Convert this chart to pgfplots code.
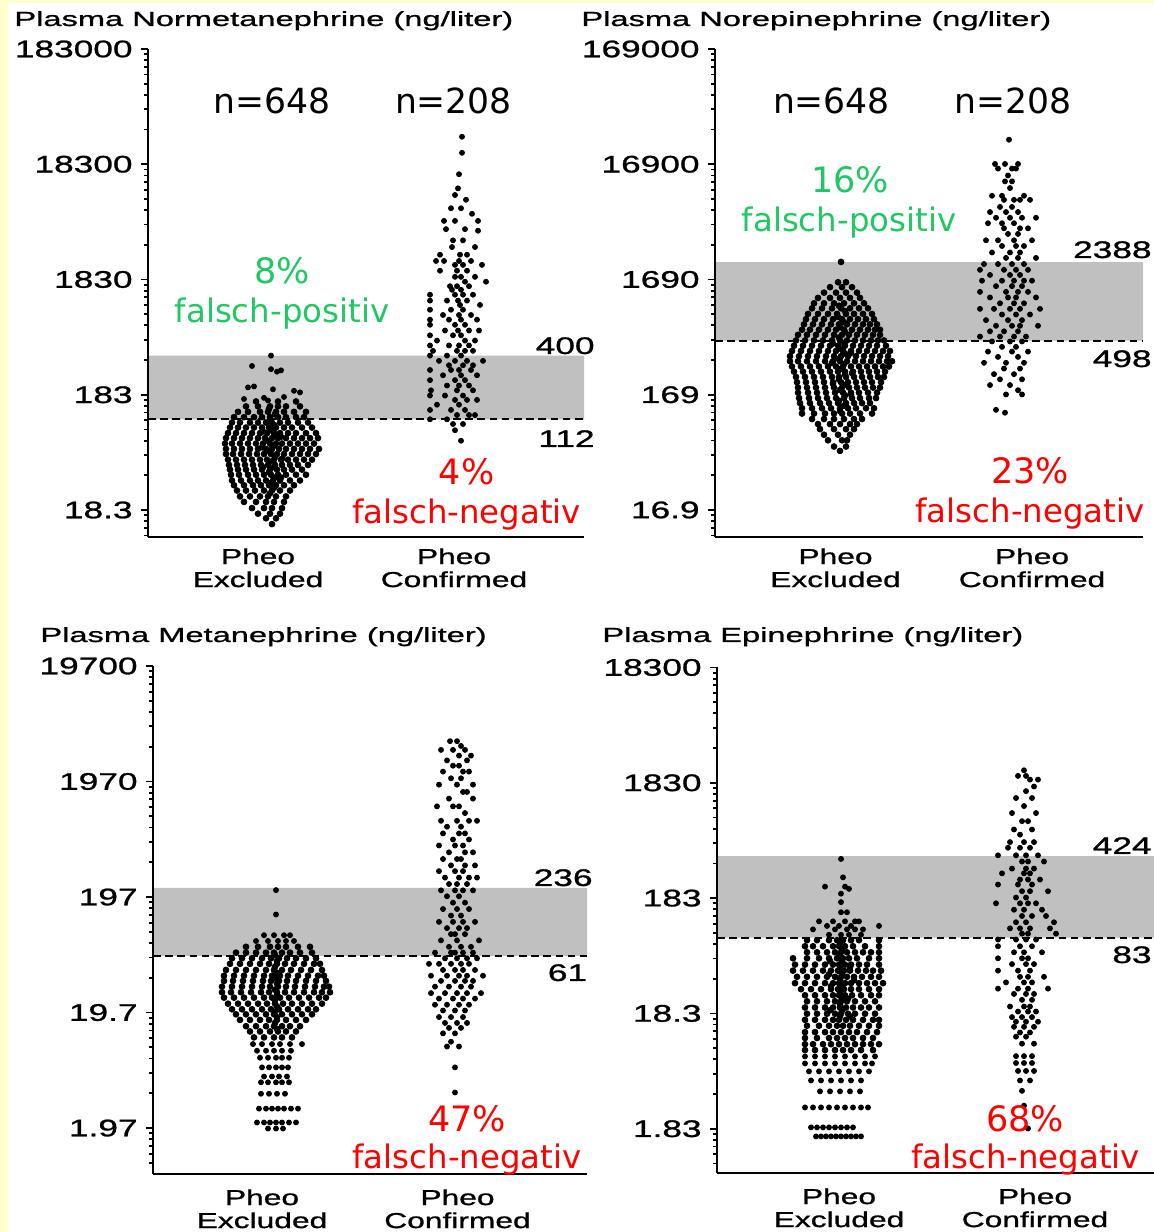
\documentclass[border=0pt]{standalone}
\usepackage{pgfplots}
\pgfplotsset{compat=1.18}
\usepackage{fontspec}
\setmainfont{Liberation Sans}
\newfontfamily\wide[FakeStretch=1.47,FakeBold=1]{Liberation Sans}
\newfontfamily\titlef[FakeStretch=1.6,FakeBold=1]{Liberation Sans}
\newfontfamily\ann{DejaVu Sans}
\definecolor{bg}{HTML}{FFFFCC}
\definecolor{band}{HTML}{C0C0C0}
\definecolor{fpgreen}{HTML}{20C864}
\definecolor{fnred}{HTML}{FF0000}

\pgfplotsset{
  mypanel/.style={
    scale only axis, anchor=south west, clip=false, axis on top,
    axis lines*=left,
    axis line style={line width=1.3pt},
    tick align=outside,
    xtick style={draw=none},
    ytick style={black, line width=0.9pt},
    major tick length=3.5pt, minor tick length=1.8pt,
    yticklabel style={font=\wide\fontsize{12}{12}\selectfont, inner sep=0pt, xshift=-4pt},
    xticklabel style={font=\wide\fontsize{10.8}{11.5}\selectfont, align=center, inner sep=0pt},
    xticklabels={{Pheo\\Excluded},{Pheo\\Confirmed}},
  },
  bandfill/.style={fill=band, draw=none},
  cutoff/.style={black, line width=1pt, dash pattern=on 3.8pt off 2.3pt},
  bdots/.style={only marks, mark=*, mark size=1.45pt, black},
  cdots/.style={only marks, mark=*, mark size=1.25pt, black},
}

\begin{document}
\begin{tikzpicture}
\path[use as bounding box] (0,0) rectangle (577pt,616pt);
\clip (0,0) rectangle (577pt,616pt);
\fill[bg] (0,0) rectangle (577pt,616pt);
\fill[white] (4pt,0) rectangle (577pt,614.5pt);

% ---------- Plasma Normetanephrine ----------
\begin{axis}[ymode=log, mypanel, at={(74pt,347.5pt)}, width=218pt, height=244pt,
  xticklabel style={yshift=-2pt},
  xmin=-124, xmax=312, ymin=10.67, ymax=183000,
  xtick={-14,182},
  ytick={18.3,183,1830,18300,183000}, yticklabels={18.3,183,1830,18300,183000},
  minor ytick={10.98,12.81,14.64,16.47,36.6,54.9,73.2,91.5,109.8,128.1,146.4,164.7,366,549,732,915,1098,1281,1464,1647,3660,5490,7320,9150,10980,12810,14640,16470,36600,54900,73200,91500,109800,128100,146400,164700}]
\addplot[bandfill] coordinates {(-124,112) (312,112) (312,400) (-124,400) (-124,112)};
\addplot[cutoff] coordinates {(-124,112) (312,112)};
% Pheo excluded
\addplot[cdots] coordinates {
(-1,400)(-20,325)(-1,305)(5,290)(9,298)(-24,212)(-18,216)(1,204)(22,198)(28,192)(-28,168)(-8,172)(-4,163)(12,175)
};
\addplot[bdots] coordinates {
(-16,160)(6,160)(24,160)
(-26,145)(-14,145)(-2,145)(6,145)(14,145)(28,145)
(-34,130)(-24,130)(-12,130)(-4,130)(4,130)(12,130)(22,130)(34,130)
(-38,117)(-28,117)(-18,117)(-10,117)(-2,117)(6,117)(14,117)(24,117)(32,117)
(-40,105)(-32,105)(-22,105)(-14,105)(-6,105)(0,105)(8,105)(16,105)(26,105)(36,105)
(-42,95)(-34,95)(-26,95)(-18,95)(-10,95)(-3,95)(4,95)(12,95)(20,95)(30,95)(40,95)
(-44,85)(-36,85)(-28,85)(-20,85)(-12,85)(-5,85)(2,85)(8,85)(16,85)(24,85)(34,85)(44,85)
(-46,77)(-38,77)(-30,77)(-22,77)(-14,77)(-7,77)(0,77)(6,77)(14,77)(22,77)(30,77)(38,77)(46,77)
(-47,69)(-40,69)(-32,69)(-24,69)(-16,69)(-9,69)(-2,69)(4,69)(10,69)(18,69)(26,69)(34,69)(42,69)
(-46,62)(-38,62)(-30,62)(-22,62)(-14,62)(-6,62)(0,62)(7,62)(14,62)(22,62)(30,62)(38,62)(47,62)
(-46,56)(-39,56)(-31,56)(-23,56)(-15,56)(-8,56)(-1,56)(5,56)(12,56)(20,56)(28,56)(36,56)(44,56)
(-44,50)(-36,50)(-28,50)(-20,50)(-12,50)(-5,50)(2,50)(9,50)(16,50)(24,50)(32,50)(40,50)
(-43,45)(-35,45)(-27,45)(-19,45)(-11,45)(-4,45)(3,45)(10,45)(18,45)(26,45)(36,45)
(-42,41)(-34,41)(-26,41)(-18,41)(-10,41)(-2,41)(5,41)(12,41)(20,41)(30,41)
(-41,37)(-33,37)(-24,37)(-16,37)(-8,37)(-1,37)(6,37)(14,37)(24,37)(34,37)
(-40,33)(-31,33)(-22,33)(-14,33)(-6,33)(1,33)(8,33)(18,33)(28,33)
(-38,30)(-28,30)(-19,30)(-11,30)(-3,30)(4,30)(12,30)(22,30)
(-35,27)(-26,27)(-17,27)(-8,27)(0,27)(8,27)(18,27)
(-32,24)(-22,24)(-12,24)(-4,24)(4,24)(14,24)
(-28,21.5)(-16,21.5)(-6,21.5)(2,21.5)(12,21.5)
(-20,19)(-8,19)(0,19)(10,19)
(-14,17)(-2,17)(8,17)
(-6,15.5)(4,15.5)
(0,13.8)
(-3,138)(3,124)(-2,111)(2,100)(-1,90)(3,81)(-4,73)(2,66)(-3,59)(3,53)(-2,48)(2,43)(-3,39)(3,35)(-1,31.5)(2,28.5)(-2,25.5)
(-9,88)(9,79)(-10,64)(10,51)(-9,43)(9,35)
};
% Pheo confirmed
\addplot[cdots] coordinates {
(190,31700)(190,23000)(187,15000)(186,11300)(183,9900)(194,9000)(179,7600)(189,7600)(200,6800)
(172,5900)(183,5900)(206,5900)(174,5000)(193,5000)(206,4850)(181,4000)(191,4000)(180,3500)(203,3500)
(168,3000)(188,3000)(195,3000)(164,2650)(172,2650)(187,2650)(199,2650)(183,2450)(191,2450)(210,2450)
(168,2180)(185,2180)(195,2180)(183,1930)(189,1930)(203,1930)(193,1750)(214,1750)(178,1600)(185,1600)(197,1600)
(180,1490)(189,1490)(158,1350)(183,1350)(191,1350)(201,1350)(158,1200)(175,1200)(186,1200)(195,1200)
(188,1100)(208,1100)(158,1000)(179,1000)(191,1000)(171,900)(187,900)(199,900)
(158,820)(177,820)(189,820)(205,820)(158,740)(183,740)(193,740)(173,660)(186,660)(197,660)(207,660)
(158,600)(181,600)(189,600)(165,540)(193,540)(203,540)(158,490)(177,490)(187,490)(197,490)
(161,440)(185,440)(193,440)(201,440)(158,400)(175,400)(189,400)(167,360)(183,360)(195,360)(211,360)
(177,330)(191,330)(201,330)(158,300)(179,300)(187,300)(199,300)(171,270)(189,270)(205,270)
(158,245)(183,245)(193,245)(175,220)(187,220)(197,220)(159,200)(185,200)(201,200)
(158,180)(173,180)(191,180)(183,165)(195,165)(205,165)(165,150)(187,150)(158,135)(179,135)(193,135)
(185,122)(197,122)(203,122)(158,112)(175,112)(181,102)(191,102)(183,90)(189,73)
};
\end{axis}

% ---------- Plasma Norepinephrine ----------
\begin{axis}[ymode=log, mypanel, at={(357.5pt,347.5pt)}, width=214pt, height=244pt,
  xticklabel style={yshift=-2pt},
  xmin=-127, xmax=301, ymin=9.85, ymax=169000,
  xtick={-6.5,190},
  ytick={16.9,169,1690,16900,169000}, yticklabels={16.9,169,1690,16900,169000},
  minor ytick={10.14,11.83,13.52,15.21,33.8,50.7,67.6,84.5,101.4,118.3,135.2,152.1,338,507,676,845,1014,1183,1352,1521,3380,5070,6760,8450,10140,11830,13520,15210,33800,50700,67600,84500,101400,118300,135200,152100}]
\addplot[bandfill] coordinates {(-127,498) (301,498) (301,2388) (-127,2388) (-127,498)};
\addplot[cutoff] coordinates {(-127,498) (301,498)};
\addplot[bdots] coordinates {
(-1,2400)
(-4,1600)(4,1600)
(-12,1450)(0,1450)(10,1450)
(-18,1300)(-6,1300)(4,1300)(15,1300)
(-24,1170)(-12,1170)(-2,1170)(8,1170)(18,1170)
(-28,1050)(-18,1050)(-8,1050)(2,1050)(12,1050)(22,1050)
(-30,950)(-20,950)(-10,950)(-1,950)(8,950)(17,950)(26,950)
(-34,850)(-24,850)(-14,850)(-5,850)(4,850)(12,850)(21,850)(30,850)
(-36,765)(-27,765)(-18,765)(-9,765)(0,765)(8,765)(16,765)(24,765)(32,765)
(-38,690)(-29,690)(-20,690)(-11,690)(-3,690)(5,690)(13,690)(21,690)(28,690)(35,690)
(-40,620)(-32,620)(-23,620)(-14,620)(-6,620)(2,620)(10,620)(18,620)(26,620)(33,620)(38,620)
(-44,560)(-35,560)(-26,560)(-17,560)(-8,560)(0,560)(7,560)(15,560)(23,560)(31,560)(38,560)
(-46,500)(-37,500)(-28,500)(-19,500)(-10,500)(-2,500)(5,500)(13,500)(21,500)(29,500)(36,500)(42,500)
(-48,450)(-39,450)(-30,450)(-21,450)(-12,450)(-4,450)(3,450)(11,450)(19,450)(27,450)(35,450)(44,450)
(-50,405)(-41,405)(-32,405)(-23,405)(-14,405)(-6,405)(1,405)(9,405)(17,405)(25,405)(33,405)(41,405)(48,405)
(-52,365)(-43,365)(-34,365)(-25,365)(-16,365)(-8,365)(-1,365)(6,365)(14,365)(22,365)(30,365)(38,365)(46,365)
(-52,330)(-44,330)(-35,330)(-26,330)(-17,330)(-9,330)(-2,330)(5,330)(13,330)(21,330)(29,330)(37,330)(45,330)(50,330)
(-50,297)(-41,297)(-32,297)(-23,297)(-14,297)(-6,297)(1,297)(9,297)(17,297)(25,297)(33,297)(41,297)(47,297)
(-48,268)(-39,268)(-30,268)(-21,268)(-12,268)(-4,268)(3,268)(11,268)(19,268)(27,268)(35,268)(43,268)
(-46,241)(-37,241)(-28,241)(-19,241)(-10,241)(-3,241)(4,241)(12,241)(20,241)(28,241)(36,241)(42,241)
(-45,217)(-36,217)(-27,217)(-18,217)(-9,217)(-1,217)(6,217)(14,217)(22,217)(30,217)(39,217)
(-44,195)(-35,195)(-26,195)(-17,195)(-8,195)(0,195)(7,195)(15,195)(23,195)(31,195)(38,195)
(-44,176)(-34,176)(-25,176)(-16,176)(-7,176)(1,176)(9,176)(17,176)(26,176)(35,176)
(-43,158)(-33,158)(-24,158)(-15,158)(-6,158)(2,158)(10,158)(18,158)(27,158)(34,158)
(-42,143)(-32,143)(-22,143)(-13,143)(-4,143)(4,143)(12,143)(20,143)(28,143)
(-40,129)(-30,129)(-20,129)(-11,129)(-2,129)(6,129)(14,129)(24,129)(32,129)
(-40,116)(-28,116)(-17,116)(-8,116)(0,116)(8,116)(18,116)(30,116)
(-30,104)(-18,104)(-8,104)(2,104)(12,104)(20,104)
(-24,94)(-12,94)(-2,94)(8,94)(15,94)
(-22,85)(-8,85)(4,85)(12,85)
(-18,76)(-4,76)(8,76)
(-14,68)(0,68)(5,68)
(-8,60)(4,60)
(-2,55)
(-3,1000)(3,900)(-4,800)(2,720)(-2,650)(3,590)(-3,530)(2,475)(-2,425)(3,385)(-3,345)(2,312)(-2,282)(3,254)(-3,229)(2,206)(-2,186)(3,167)(-3,150)(2,136)(-2,122)
(-9,470)(9,390)(-10,320)(10,260)(-9,210)(9,170)
};
\addplot[cdots] coordinates {
(167,27600)(153,17000)(163,17000)(176,17000)(156,15500)(170,15500)(174,15500)(166,13500)(163,12000)(170,12000)(168,10500)
(150,9000)(160,9000)(182,9000)(162,8300)(172,8300)(178,8300)(188,8300)(158,7200)(170,7200)
(148,6500)(164,6500)(176,6500)(154,5800)(168,5800)(180,5800)(194,5800)(146,5200)(160,5200)(172,5200)
(162,4700)(178,4700)(186,4700)(166,4200)(176,4200)(144,3700)(156,3700)(172,3700)(190,3700)
(160,3300)(174,3300)(182,3300)(150,2900)(168,2900)(178,2900)(164,2600)(176,2600)(194,2600)
(142,2300)(156,2300)(170,2300)(182,2300)(138,2050)(162,2050)(174,2050)(186,2050)(148,1850)(168,1850)(178,1850)
(140,1650)(160,1650)(172,1650)(182,1650)(190,1650)(154,1480)(170,1480)(180,1480)
(138,1320)(164,1320)(176,1320)(186,1320)(148,1180)(166,1180)(174,1180)(194,1180)(158,1050)(172,1050)(182,1050)
(138,940)(152,940)(168,940)(178,940)(198,940)(160,840)(174,840)(188,840)(144,750)(166,750)(180,750)
(154,670)(170,670)(178,670)(196,670)(148,600)(162,600)(176,600)(138,540)(158,540)(172,540)(184,540)
(150,490)(168,490)(180,490)(160,440)(174,440)(146,400)(170,400)(186,400)(156,360)(176,360)
(142,320)(164,320)(182,320)(162,285)(178,285)(152,255)(172,255)(158,230)(180,230)(148,205)(168,205)
(176,185)(164,170)(180,170)(154,125)(163,118)
};
\end{axis}

% ---------- Plasma Metanephrine ----------
\begin{axis}[ymode=log, mypanel, at={(76.5pt,29pt)}, width=217pt, height=254pt,
  xticklabel style={yshift=-4pt},
  xmin=-123, xmax=311, ymin=0.788, ymax=19700,
  xtick={-14,181.5},
  ytick={1.97,19.7,197,1970,19700}, yticklabels={1.97,19.7,197,1970,19700},
  minor ytick={0.985,1.182,1.379,1.576,1.773,3.94,5.91,7.88,9.85,11.82,13.79,15.76,17.73,39.4,59.1,78.8,98.5,118.2,137.9,157.6,177.3,394,591,788,985,1182,1379,1576,1773,3940,5910,7880,9850,11820,13790,15760,17730}]
\addplot[bandfill] coordinates {(-123,61) (311,61) (311,236) (-123,236) (-123,61)};
\addplot[cutoff] coordinates {(-123,61) (311,61)};
\addplot[cdots] coordinates {
(0,226)(0,139)
(-12,92)(-2,92)(8,92)(14,92)
(-20,82)(-8,82)(2,82)(10,82)(18,82)
};
\addplot[bdots] coordinates {
(-30,73)(-18,73)(-6,73)(2,73)(10,73)(22,73)(34,73)
(-40,65)(-30,65)(-20,65)(-10,65)(-2,65)(6,65)(14,65)(24,65)(36,65)
(-44,58)(-34,58)(-24,58)(-14,58)(-5,58)(3,58)(11,58)(20,58)(30,58)(40,58)
(-46,52)(-36,52)(-26,52)(-16,52)(-7,52)(1,52)(9,52)(18,52)(28,52)(38,52)(44,52)
(-50,46)(-40,46)(-30,46)(-20,46)(-10,46)(-2,46)(6,46)(15,46)(25,46)(35,46)(46,46)
(-52,41)(-42,41)(-32,41)(-22,41)(-12,41)(-4,41)(4,41)(12,41)(22,41)(32,41)(42,41)(48,41)
(-52,37)(-43,37)(-33,37)(-23,37)(-13,37)(-5,37)(3,37)(11,37)(20,37)(30,37)(40,37)(50,37)
(-54,33)(-44,33)(-34,33)(-24,33)(-14,33)(-6,33)(2,33)(10,33)(19,33)(29,33)(39,33)(48,33)(53,33)
(-54,29.5)(-45,29.5)(-35,29.5)(-25,29.5)(-15,29.5)(-7,29.5)(1,29.5)(9,29.5)(18,29.5)(28,29.5)(38,29.5)(46,29.5)(54,29.5)
(-52,26.5)(-42,26.5)(-32,26.5)(-22,26.5)(-12,26.5)(-4,26.5)(4,26.5)(13,26.5)(23,26.5)(33,26.5)(43,26.5)(50,26.5)
(-48,23.5)(-38,23.5)(-28,23.5)(-18,23.5)(-9,23.5)(-1,23.5)(7,23.5)(16,23.5)(26,23.5)(36,23.5)(46,23.5)
(-44,21)(-34,21)(-24,21)(-14,21)(-5,21)(3,21)(12,21)(22,21)(32,21)(40,21)
(-40,19)(-30,19)(-20,19)(-10,19)(-2,19)(6,19)(16,19)(26,19)(36,19)
(-36,17)(-26,17)(-16,17)(-7,17)(1,17)(10,17)(20,17)(30,17)
(-30,15)(-20,15)(-10,15)(-2,15)(6,15)(14,15)(24,15)
(-26,13.5)(-16,13.5)(-6,13.5)(2,13.5)(10,13.5)(20,13.5)
(-22,12)(-12,12)(-2,12)(6,12)(16,12)
(-1,62)(1,55)(-1,49)(1,43.5)(-1,39)(1,35)(-1,31)(1,28)(-1,25)(1,22.2)(-1,20)(1,18)(-1,16)(1,14.2)
};
\addplot[cdots] coordinates {
(-23,10.5)(-14,10.5)(-4,10.5)(4,10.5)(14,10.5)(26,10.5)
(-19,9.2)(-10,9.2)(-2,9.2)(6,9.2)(15,9.2)
(-16,8)(-8,8)(0,8)(6,8)(13,8)
(-14,6.6)(-7,6.6)(0,6.6)(6,6.6)(12,6.6)
(-12,5.5)(-4,5.5)(3,5.5)(11,5.5)
(-15,4.9)(-8,4.9)(0,4.9)(6,4.9)(13,4.9)
(-15,3.9)(-7,3.9)(1,3.9)(9,3.9)
(-17,2.9)(-10,2.9)(-4,2.9)(2,2.9)(8,2.9)(15,2.9)(22,2.9)
(-19,2.2)(-12,2.2)(-6,2.2)(0,2.2)(6,2.2)(13,2.2)(20,2.2)
(-8,1.95)(0,1.95)(7,1.95)
};
\addplot[cdots] coordinates {
(174,4400)(181,4400)(185,4000)(165,3700)(177,3700)(189,3700)(183,3300)(195,3300)(171,3000)(191,3000)
(177,2700)(183,2700)(167,2400)(187,2400)(193,2400)(175,2100)(185,2100)(163,1850)(181,1850)(197,1850)
(187,1600)(191,1600)(173,1400)(197,1400)(161,1200)(177,1200)(183,1200)(189,1050)
(165,900)(181,900)(193,900)(201,900)(171,800)(185,800)(167,700)(183,700)(189,700)(177,620)(193,620)
(163,550)(179,550)(187,550)(173,480)(189,480)(197,480)(167,420)(181,420)(185,420)(175,370)(189,370)(199,370)
(163,330)(179,330)(187,330)(169,290)(183,290)(193,290)(201,290)(173,255)(181,255)(191,255)
(165,225)(179,225)(187,225)(197,225)(171,200)(183,200)(177,176)(189,176)(167,155)(181,155)(193,155)
(175,136)(185,136)(163,120)(177,120)(187,120)(199,120)(171,106)(183,106)(191,106)(175,94)(179,94)(189,94)
(165,83)(181,83)(203,83)(173,73)(185,73)(195,73)(159,65)(175,65)(179,65)(187,65)(197,65)
(169,58)(181,58)(191,58)(201,58)(153,52)(163,52)(175,52)(185,52)(193,52)(167,46)(179,46)(187,46)(199,46)
(155,41)(171,41)(183,41)(191,41)(207,41)(165,37)(179,37)(189,37)(197,37)(159,33)(173,33)(185,33)(195,33)
(155,29)(169,29)(181,29)(191,29)(205,29)(163,26)(177,26)(187,26)(199,26)(159,23)(171,23)(183,23)(193,23)
(167,20.5)(179,20.5)(189,20.5)(163,18)(175,18)(187,18)(169,16)(181,16)(191,16)(173,14.5)(185,14.5)
(167,13)(179,13)(175,11)(171,10)(183,10)(179,6.6)(179,4.0)
};
\end{axis}

% ---------- Plasma Epinephrine ----------
\begin{axis}[ymode=log, mypanel, at={(358.5pt,29.5pt)}, width=218.5pt, height=252.75pt,
  xticklabel style={yshift=-4pt},
  xmin=-124, xmax=313, ymin=0.756, ymax=18300,
  xtick={-2,194},
  ytick={1.83,18.3,183,1830,18300}, yticklabels={1.83,18.3,183,1830,18300},
  minor ytick={0.915,1.098,1.281,1.464,1.647,3.66,5.49,7.32,9.15,10.98,12.81,14.64,16.47,36.6,54.9,73.2,91.5,109.8,128.1,146.4,164.7,366,549,732,915,1098,1281,1464,1647,3660,5490,7320,9150,10980,12810,14640,16470}]
\addplot[bandfill] coordinates {(-124,83) (313,83) (313,424) (-124,424) (-124,83)};
\addplot[cutoff] coordinates {(-124,83) (313,83)};
\addplot[cdots] coordinates {
(0,400)(2,277)(-16,230)(4,230)(8,220)(0,200)(0,169)(0,138)(6,138)
(-22,115)(-8,115)(4,115)(14,115)(18,115)
(-14,105)(-2,105)(10,105)(38,105)
(-28,98)(-6,98)(6,98)(14,98)(22,98)
(-12,88)(0,88)(8,88)(20,88)
};
\addplot[bdots] coordinates {
(-34,79)(-24,79)(-12,79)(-4,79)(2,79)(10,79)(18,79)(38,79)
(-36,70)(-28,70)(-18,70)(-8,70)(-2,70)(4,70)(12,70)(24,70)(38,70)
(-34,62)(-24,62)(-14,62)(-6,62)(0,62)(6,62)(14,62)(22,62)(30,62)(38,62)
(-48,55)(-34,55)(-22,55)(-12,55)(-4,55)(2,55)(8,55)(16,55)(28,55)(38,55)
(-46,48.5)(-36,48.5)(-26,48.5)(-16,48.5)(-8,48.5)(-2,48.5)(4,48.5)(10,48.5)(18,48.5)(26,48.5)(38,48.5)
(-48,43)(-38,43)(-28,43)(-18,43)(-10,43)(-3,43)(3,43)(9,43)(17,43)(25,43)(32,43)(40,43)
(-44,38)(-34,38)(-24,38)(-14,38)(-6,38)(0,38)(6,38)(13,38)(21,38)(30,38)(38,38)
(-46,33.5)(-36,33.5)(-26,33.5)(-16,33.5)(-8,33.5)(-2,33.5)(4,33.5)(10,33.5)(18,33.5)(26,33.5)(34,33.5)(42,33.5)
(-40,29.7)(-30,29.7)(-20,29.7)(-10,29.7)(-3,29.7)(3,29.7)(10,29.7)(18,29.7)(28,29.7)(38,29.7)
(-36,26.3)(-26,26.3)(-16,26.3)(-8,26.3)(-2,26.3)(4,26.3)(11,26.3)(20,26.3)(30,26.3)(38,26.3)
(-34,23.3)(-24,23.3)(-14,23.3)(-6,23.3)(0,23.3)(6,23.3)(14,23.3)(24,23.3)(34,23.3)
(-36,20.6)(-26,20.6)(-16,20.6)(-8,20.6)(-1,20.6)(5,20.6)(12,20.6)(20,20.6)(28,20.6)(38,20.6)
(-34,18.2)(-24,18.2)(-14,18.2)(-6,18.2)(0,18.2)(7,18.2)(14,18.2)(24,18.2)(34,18.2)
(-36,16.1)(-26,16.1)(-16,16.1)(-8,16.1)(-2,16.1)(5,16.1)(12,16.1)(22,16.1)(32,16.1)(38,16.1)
(-34,14.3)(-22,14.3)(-12,14.3)(-4,14.3)(2,14.3)(9,14.3)(18,14.3)(28,14.3)(38,14.3)
(-36,12.6)(-26,12.6)(-16,12.6)(-8,12.6)(0,12.6)(8,12.6)(16,12.6)(26,12.6)(36,12.6)
(-36,11.2)(-24,11.2)(-12,11.2)(-4,11.2)(4,11.2)(12,11.2)(22,11.2)(32,11.2)
(-36,9.9)(-28,9.9)(-18,9.9)(-10,9.9)(-2,9.9)(6,9.9)(14,9.9)(22,9.9)(30,9.9)(38,9.9)
(-36,8.8)(-26,8.8)(-16,8.8)(-6,8.8)(2,8.8)(10,8.8)(20,8.8)(32,8.8)
(-1,75)(1,66)(-1,58)(1,51)(-1,45.5)(1,40.5)(-1,36)(1,31.5)(-1,28)(1,24.8)(-1,22)(1,19.4)(-1,17.2)
(-11,52)(9,46)(-12,40)(13,35.5)(-10,31.5)(7,24.5)(-11,19.5)(9,17.2)
};
\addplot[cdots] coordinates {
(-36,7.76)(-26,7.76)(-16,7.76)(-6,7.76)(4,7.76)(14,7.76)(24,7.76)(34,7.76)
(-36,6.74)(-26,6.74)(-16,6.74)(-6,6.74)(4,6.74)(14,6.74)(24,6.74)(31,6.74)
(-32,5.75)(-22,5.75)(-12,5.75)(-2,5.75)(8,5.75)(18,5.75)(28,5.75)
(-30,4.8)(-20,4.8)(-10,4.8)(0,4.8)(10,4.8)(20,4.8)
(-21,3.86)(-11,3.86)(-1,3.86)(9,3.86)(19,3.86)
(-36,2.8)(-28,2.8)(-20,2.8)(-12,2.8)(-4,2.8)(4,2.8)(12,2.8)(20,2.8)(27,2.8)
(-30,1.88)(-24,1.88)(-18,1.88)(-12,1.88)(-6,1.88)(0,1.88)(6,1.88)(12,1.88)
(-25,1.57)(-20,1.57)(-15,1.57)(-10,1.57)(-5,1.57)(0,1.57)(5,1.57)(10,1.57)(15,1.57)(20,1.57)
};
\addplot[cdots] coordinates {
(183,2350)(177,2100)(185,2100)(189,1950)(197,1950)(193,1700)(185,1550)(175,1350)(191,1350)(183,1150)
(171,1000)(195,1000)(181,850)(187,850)(173,720)(191,720)(179,650)(169,560)(183,560)(193,560)
(167,500)(179,500)(189,500)(157,430)(175,430)(185,430)(197,430)(181,380)(187,380)(203,380)
(171,330)(185,330)(193,330)(161,300)(183,300)(189,300)(179,265)(187,265)(199,265)(157,240)(177,240)(191,240)
(181,210)(189,210)(207,210)(175,185)(185,185)(155,165)(179,165)(187,165)(195,165)(173,145)(183,145)(201,145)
(181,128)(191,128)(205,128)(175,113)(185,113)(213,113)(169,100)(179,100)(189,100)(209,100)(181,90)(187,90)(215,90)
(157,80)(175,80)(185,80)(195,80)(157,70)(179,70)(191,70)(173,62)(183,62)(201,62)(157,55)(181,55)(187,55)
(171,49)(185,49)(193,49)(157,43)(177,43)(189,43)(179,38)(187,38)(203,38)(165,34)(183,34)(191,34)
(157,30)(177,30)(187,30)(207,30)(173,27)(185,27)(193,27)(181,24)(191,24)(169,21)(183,21)(189,21)
(177,19)(187,19)(195,19)(171,17)(181,17)(191,17)(175,15.5)(185,15.5)(197,15.5)(173,14)(183,14)(193,14)
(179,12.5)(189,12.5)(175,11.5)(185,11.5)(181,10)(193,10)(175,7.8)(183,7.8)(191,7.8)(175,6.8)(183,6.8)(191,6.8)
(177,5.8)(185,5.8)(193,5.8)(179,4.8)(189,4.8)(181,3.9)(183,2.9)(187,1.84)
};
\end{axis}

% ---------- texts ----------
\begin{scope}[x=0.5pt,y=0.5pt,
  T/.style={font=\titlef\fontsize{10.2}{12}\selectfont, anchor=base west, inner sep=0pt},
  N/.style={font=\ann\fontsize{17.3}{18}\selectfont, anchor=base, inner sep=0pt},
  G/.style={font=\ann\fontsize{16.2}{17}\selectfont, anchor=base, inner sep=0pt, text=fpgreen},
  R/.style={font=\ann\fontsize{16.2}{17}\selectfont, anchor=base, inner sep=0pt, text=fnred},
  P/.style={font=\ann\fontsize{17.5}{18}\selectfont},
  C/.style={font=\wide\fontsize{12}{12}\selectfont, anchor=base east, inner sep=0pt}]
\node[T] at (14,1206) {Plasma Normetanephrine (ng/liter)};
\node[T] at (581,1206) {Plasma Norepinephrine (ng/liter)};
\node[T] at (40,590) {Plasma Metanephrine (ng/liter)};
\node[T] at (602,590) {Plasma Epinephrine (ng/liter)};
\node[N] at (272,1118) {n=648};
\node[N] at (453.5,1118) {n=208};
\node[N] at (831.5,1118) {n=648};
\node[N] at (1013,1118) {n=208};
\node[G,P] at (282,948) {8\%};
\node[G] at (282,909) {falsch-positiv};
\node[R,P] at (466.5,747) {4\%};
\node[R] at (466.5,708.5) {falsch-negativ};
\node[G,P] at (850,1039) {16\%};
\node[G] at (849,1000.5) {falsch-positiv};
\node[R,P] at (1030,748) {23\%};
\node[R] at (1030,709.6) {falsch-negativ};
\node[R,P] at (467,100.4) {47\%};
\node[R] at (467,63) {falsch-negativ};
\node[R,P] at (1025,100.4) {68\%};
\node[R] at (1025.5,63) {falsch-negativ};
\node[C] at (595,878) {400};
\node[C] at (595,785) {112};
\node[C] at (1152,974) {2388};
\node[C] at (1152,865) {498};
\node[C] at (593,346) {236};
\node[C] at (587.5,251) {61};
\node[C] at (1152,378) {424};
\node[C] at (1152,269) {83};
\end{scope}
\end{tikzpicture}
\end{document}
